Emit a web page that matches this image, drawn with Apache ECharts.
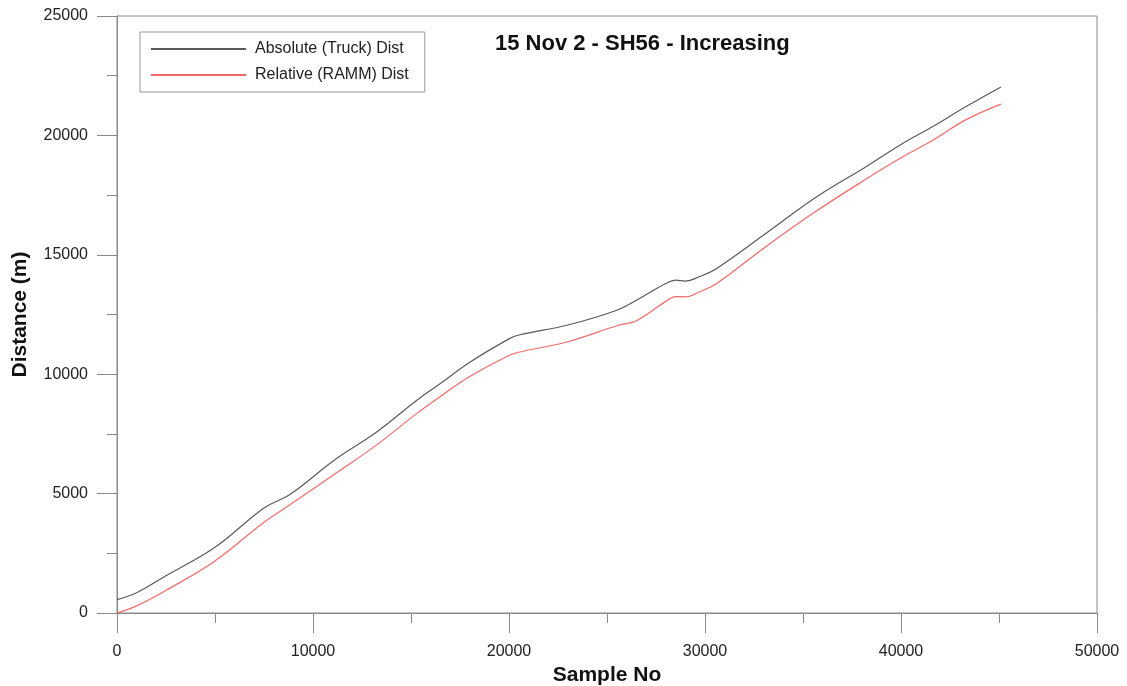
<!DOCTYPE html>
<html>
<head>
<meta charset="utf-8">
<script src="https://cdn.jsdelivr.net/npm/echarts@6/dist/echarts.min.js"></script>
<style>html,body{margin:0;padding:0;background:#fff;}#c{width:1127px;height:686px;}</style>
</head>
<body>
<div id="c"></div>
<script>
const sampleNo = [0, 1000, 2500, 5000, 7500, 8800, 11200, 13250, 15300, 16500, 18000, 20000, 20500, 23000, 25500, 26500, 28000, 28500, 29000, 29700, 30600, 33100, 35700, 38200, 40000, 41600, 43300, 45100];
const absoluteDist = [560, 850, 1560, 2750, 4400, 4950, 6470, 7580, 8910, 9610, 10500, 11480, 11640, 12060, 12680, 13100, 13800, 13940, 13900, 14080, 14430, 15890, 17430, 18680, 19620, 20360, 21200, 22030];
const relativeDist = [0, 300, 950, 2180, 3800, 4520, 5870, 7040, 8360, 9070, 9900, 10780, 10920, 11360, 12030, 12240, 13050, 13250, 13240, 13440, 13800, 15340, 16840, 18160, 19060, 19790, 20650, 21310];
const seriesNames = ['Absolute (Truck) Dist', 'Relative (RAMM) Dist'];
const titleText = '15 Nov 2 - SH56 - Increasing';

const chart = echarts.init(document.getElementById('c'));
const font = 'Liberation Sans, Arial, sans-serif';
const axisCol = '#8a8a8a';
chart.setOption({
  animation: false,
  backgroundColor: '#fff',
  title: {
    text: titleText, left: 495, top: 33, padding: 0,
    textStyle: { fontFamily: font, fontSize: 22, fontWeight: 'bold', color: '#111' }
  },
  legend: {
    orient: 'vertical', left: 140, top: 32,
    padding: [9, 16, 9, 10],
    itemWidth: 95, itemHeight: 14, itemGap: 10,
    borderColor: '#999', borderWidth: 1,
    itemStyle: { opacity: 0 },
    textStyle: { fontFamily: font, fontSize: 16, color: '#222', padding: [0, 0, 0, 4] },
    data: seriesNames
  },
  grid: { left: 117, right: 30, top: 16, bottom: 73, outerBoundsMode: 'none', show: true, borderColor: axisCol, borderWidth: 1, backgroundColor: 'transparent' },
  xAxis: {
    type: 'value', min: 0, max: 50000, interval: 10000,
    name: 'Sample No', nameLocation: 'middle', nameGap: 49,
    nameTextStyle: { fontFamily: font, fontSize: 21, fontWeight: 'bold', color: '#111' },
    axisLine: { show: true, lineStyle: { color: axisCol } },
    axisTick: { show: true, inside: false, length: 20, lineStyle: { color: axisCol } },
    minorTick: { show: true, splitNumber: 2, length: 10, lineStyle: { color: axisCol } },
    splitLine: { show: false },
    axisLabel: { margin: 31, fontFamily: font, fontSize: 16, color: '#222', formatter: v => String(v) }
  },
  yAxis: {
    type: 'value', min: 0, max: 25000, interval: 5000,
    name: 'Distance (m)', nameLocation: 'middle', nameGap: 86,
    nameTextStyle: { fontFamily: font, fontSize: 21, fontWeight: 'bold', color: '#111' },
    axisLine: { show: true, lineStyle: { color: axisCol } },
    axisTick: { show: true, inside: false, length: 20, lineStyle: { color: axisCol } },
    minorTick: { show: true, splitNumber: 2, length: 10, lineStyle: { color: axisCol } },
    splitLine: { show: false },
    axisLabel: { margin: 29, fontFamily: font, fontSize: 16, color: '#222', formatter: v => String(v) }
  },
  series: [
    {
      name: seriesNames[0], type: 'line', smooth: 0.4, symbol: 'none',
      lineStyle: { color: '#5a5a5a', width: 1.2 }, itemStyle: { color: '#5a5a5a' },
      data: sampleNo.map((x, i) => [x, absoluteDist[i]])
    },
    {
      name: seriesNames[1], type: 'line', smooth: 0.4, symbol: 'none',
      lineStyle: { color: '#f06a6a', width: 1.2 }, itemStyle: { color: '#f06a6a' },
      data: sampleNo.map((x, i) => [x, relativeDist[i]])
    }
  ]
});
</script>
</body>
</html>
